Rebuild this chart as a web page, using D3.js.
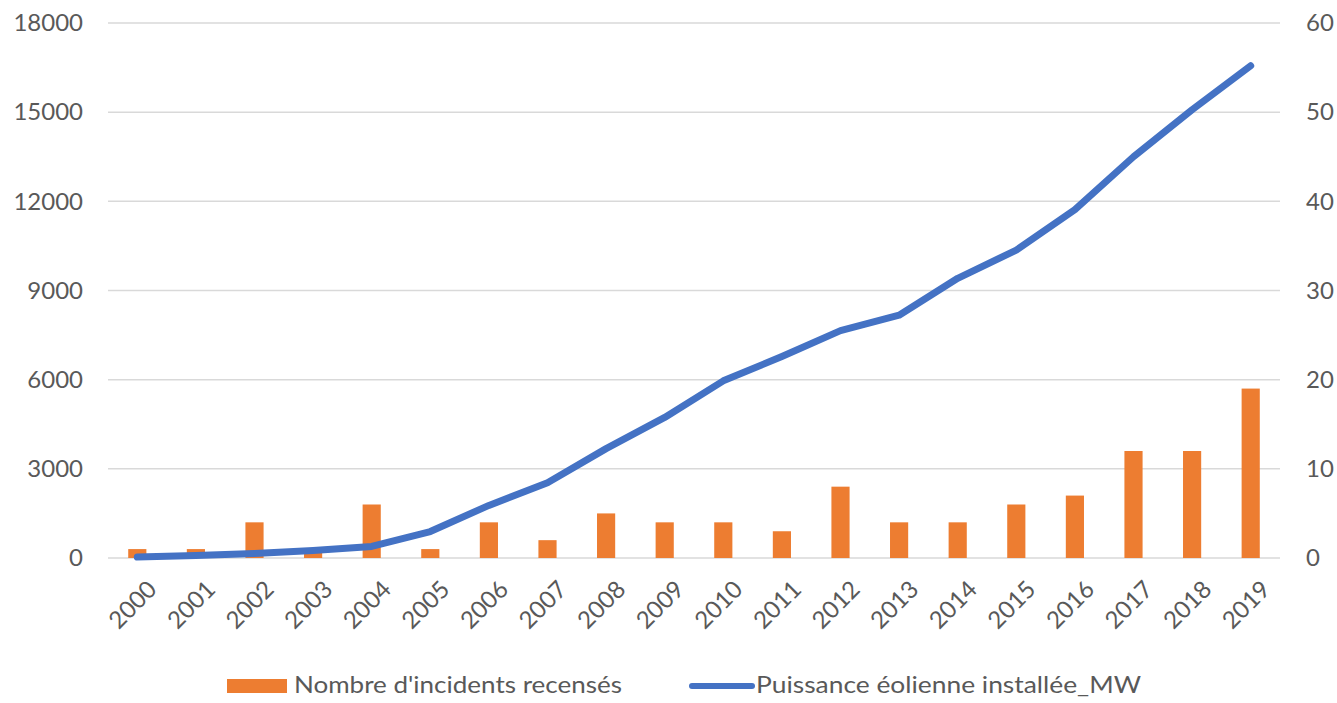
<!DOCTYPE html>
<html>
<head>
<meta charset="utf-8">
<script src="https://cdn.jsdelivr.net/npm/d3@7"></script>
<style>
  body { margin: 0; background: #fff; }
  text { font-family: Lato, "Open Sans", sans-serif; fill: #595959; }
</style>
</head>
<body>
<div id="chart"></div>
<script>
// years on the x axis
const years = ["2000","2001","2002","2003","2004","2005","2006","2007","2008","2009",
               "2010","2011","2012","2013","2014","2015","2016","2017","2018","2019"];
// incidents (right axis)
const incidents = [1, 1, 4, 1, 6, 1, 4, 2, 5, 4, 4, 3, 8, 4, 4, 6, 7, 12, 12, 19];
// installed wind power in MW (left axis)
const puissance = [30, 80, 150, 250, 390, 890, 1770, 2530, 3680, 4730,
                   5960, 6780, 7650, 8170, 9410, 10360, 11720, 13500, 15080, 16560];
const leftTicks = [0, 3000, 6000, 9000, 12000, 15000, 18000];
const rightTicks = [0, 10, 20, 30, 40, 50, 60];
const seriesNames = ["Nombre d'incidents recensés", "Puissance éolienne installée_MW"];

const width = 1337, height = 703;
const margin = {left: 108, right: 57, top: 23, bottom: 145};

const svg = d3.select("#chart").append("svg")
    .attr("width", width)
    .attr("height", height);

const x = d3.scaleBand()
    .domain(years)
    .range([margin.left, width - margin.right])
    .paddingInner(0.69)
    .paddingOuter(0.345);

const xc = d => x(d) + x.bandwidth() / 2;

const yLeft = d3.scaleLinear()
    .domain([0, 18000])
    .range([height - margin.bottom, margin.top]);

const yRight = d3.scaleLinear()
    .domain([0, 60])
    .range([height - margin.bottom, margin.top]);

// gridlines
svg.append("g")
    .selectAll("line")
    .data(leftTicks)
    .join("line")
      .attr("x1", margin.left)
      .attr("x2", width - margin.right)
      .attr("y1", d => yLeft(d))
      .attr("y2", d => yLeft(d))
      .attr("stroke", "#d9d9d9")
      .attr("stroke-width", 1.5);

// left axis
const axL = svg.append("g")
    .attr("transform", `translate(${margin.left},0)`)
    .call(d3.axisLeft(yLeft).tickValues(leftTicks).tickSize(0).tickPadding(25).tickFormat(d3.format("d")));
axL.select(".domain").remove();
axL.selectAll("text").style("font-size", "24px").attr("fill", "#595959");

// right axis
const axR = svg.append("g")
    .attr("transform", `translate(${width - margin.right},0)`)
    .call(d3.axisRight(yRight).tickValues(rightTicks).tickSize(0).tickPadding(26));
axR.select(".domain").remove();
axR.selectAll("text").style("font-size", "24px").attr("fill", "#595959");

// bars
svg.append("g")
    .selectAll("rect")
    .data(incidents)
    .join("rect")
      .attr("x", (d, i) => x(years[i]))
      .attr("y", d => yRight(d))
      .attr("width", x.bandwidth())
      .attr("height", d => yRight(0) - yRight(d))
      .attr("fill", "#ed7d31");

// line
const line = d3.line()
    .x((d, i) => xc(years[i]))
    .y(d => yLeft(d));

svg.append("path")
    .datum(puissance)
    .attr("d", line)
    .attr("fill", "none")
    .attr("stroke", "#4472c4")
    .attr("stroke-width", 7)
    .attr("stroke-linejoin", "round")
    .attr("stroke-linecap", "round");

// x labels
svg.append("g")
    .selectAll("text")
    .data(years)
    .join("text")
      .attr("transform", d => `translate(${xc(d) + 9},${yLeft(0) + 21}) rotate(-45)`)
      .attr("text-anchor", "end")
      .attr("dy", "0.7em")
      .style("font-size", "24px")
      .text(d => d);

// legend
const legend = svg.append("g");
legend.append("rect")
    .attr("x", 227).attr("y", 679)
    .attr("width", 60).attr("height", 14)
    .attr("fill", "#ed7d31");
legend.append("text")
    .attr("x", 294).attr("y", 693)
    .attr("textLength", 328)
    .attr("lengthAdjust", "spacingAndGlyphs")
    .style("font-size", "23px")
    .text(seriesNames[0]);
legend.append("line")
    .attr("x1", 692).attr("x2", 752)
    .attr("y1", 686).attr("y2", 686)
    .attr("stroke", "#4472c4")
    .attr("stroke-width", 6)
    .attr("stroke-linecap", "round");
legend.append("text")
    .attr("x", 756).attr("y", 693)
    .attr("textLength", 385)
    .attr("lengthAdjust", "spacingAndGlyphs")
    .style("font-size", "23px")
    .text(seriesNames[1]);
</script>
</body>
</html>
